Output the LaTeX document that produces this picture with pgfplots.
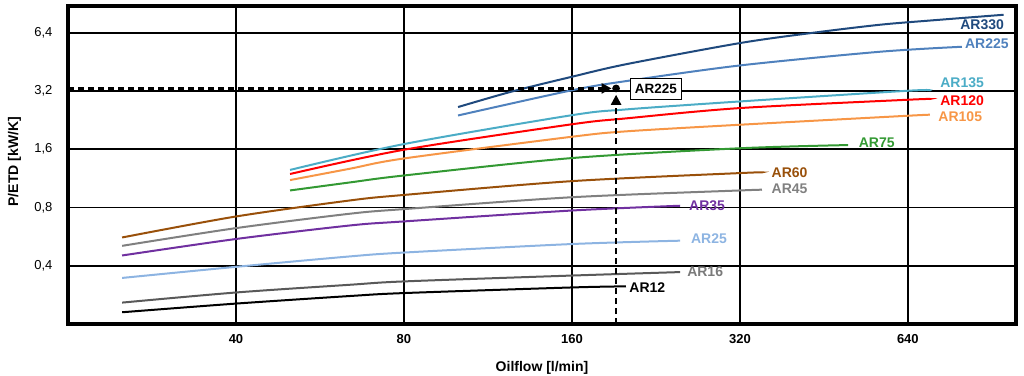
\documentclass[border=0pt]{standalone}
\usepackage{pgfplots}
\pgfplotsset{compat=1.18}
\usepackage{fontspec}
\setmainfont{Liberation Sans}
\usetikzlibrary{arrows.meta}
\definecolor{c330}{RGB}{31,73,125}
\definecolor{c225}{RGB}{79,129,189}
\definecolor{c135}{RGB}{75,172,198}
\definecolor{c120}{RGB}{255,0,0}
\definecolor{c105}{RGB}{247,150,70}
\definecolor{c75}{RGB}{51,153,51}
\definecolor{c60}{RGB}{153,80,10}
\definecolor{c45}{RGB}{128,128,128}
\definecolor{c35}{RGB}{112,48,160}
\definecolor{c25}{RGB}{141,180,226}
\definecolor{c16}{RGB}{89,89,89}
\definecolor{c12}{RGB}{0,0,0}
\begin{document}
\begin{tikzpicture}
\useasboundingbox (0,0) rectangle (1024pt,375pt);
\begin{axis}[
  at={(68pt,51pt)}, anchor=south west,
  scale only axis, width=948pt, height=318pt,
  xmode=log, ymode=log, log basis x=2, log basis y=2,
  xmin=20, xmax=1000, ymin=0.2, ymax=8.8,
  xtick={40,80,160,320,640}, xticklabels={40,80,160,320,640},
  ytick={0.4,0.8,1.6,3.2,6.4}, yticklabels={{0,4},{0,8},{1,6},{3,2},{6,4}},
  minor xtick={}, minor ytick={},
  grid=major, major grid style={black, line width=1.8pt},
  major tick length=0pt,
  axis line style={line width=4.5pt, black},
  tick label style={font=\fontsize{13}{15}\selectfont},
  xticklabel style={font=\bfseries\fontsize{13}{15}\selectfont, yshift=-6.5pt},
  yticklabel style={xshift=-12pt},
  xlabel={Oilflow [l/min]}, ylabel={P/ETD [kW/K]},
  label style={font=\bfseries\fontsize{14}{16}\selectfont},
  xlabel style={at={(axis description cs:0.5,-0.1164)}, anchor=north, inner sep=0pt},
  ylabel style={at={(axis description cs:-0.0564,0.51)}, anchor=center, inner sep=0pt},
  every axis plot/.append style={line width=2pt, no markers},
]
\addplot[c12, smooth] coordinates {(25,0.230)(40,0.255)(64,0.279)(80,0.289)(160,0.309)(200,0.313)};
\addplot[c16, smooth] coordinates {(25,0.258)(40,0.291)(64,0.319)(80,0.332)(160,0.356)(250,0.371)};
\addplot[c25, smooth] coordinates {(25,0.346)(40,0.395)(64,0.447)(80,0.468)(160,0.518)(250,0.539)};
\addplot[c35, smooth] coordinates {(25,0.452)(40,0.550)(64,0.646)(80,0.678)(160,0.772)(250,0.817)};
\addplot[c45, smooth] coordinates {(25,0.507)(40,0.626)(64,0.743)(80,0.785)(160,0.904)(320,0.980)(350,0.988)};
\addplot[c60, smooth] coordinates {(25,0.560)(40,0.719)(64,0.870)(80,0.929)(160,1.095)(320,1.205)(350,1.214)};
\addplot[c75, smooth] coordinates {(50,0.980)(64,1.078)(80,1.171)(160,1.441)(320,1.619)(500,1.682)};
\addplot[c105, smooth] coordinates {(50,1.109)(64,1.269)(80,1.434)(160,1.857)(200,1.98)(320,2.142)(640,2.384)(700,2.412)};
\addplot[c120, smooth] coordinates {(50,1.192)(80,1.591)(160,2.154)(200,2.31)(320,2.612)(640,2.884)(700,2.908)};
\addplot[c135, smooth] coordinates {(50,1.251)(80,1.702)(160,2.40)(200,2.57)(320,2.826)(640,3.210)(700,3.221)};
\addplot[c225, smooth] coordinates {(100,2.392)(160,3.229)(200,3.60)(320,4.337)(570,5.105)(800,5.418)};
\addplot[c330, smooth] coordinates {(100,2.644)(125,3.183)(160,3.792)(200,4.40)(320,5.661)(433,6.4)(570,7.04)(700,7.4)(950,7.93)};
% annotation
\addplot[black, line width=2.2pt, dash pattern=on 6pt off 4pt, -{Triangle[length=10pt,width=10pt]}] coordinates {(20,3.3) (188.5,3.3)};
\addplot[black, line width=2.2pt, dash pattern=on 6pt off 4pt, -{Triangle[length=10pt,width=10pt]}] coordinates {(192,0.2) (192,3.06)};
\addplot[black, only marks, mark=*, mark size=2.8pt] coordinates {(192,3.3)};
\node[draw, line width=1pt, fill=white, inner xsep=4.5pt, inner ysep=5.5pt, font=\bfseries\fontsize{13.5}{15}\selectfont] at (rel axis cs:0.620,0.739) {AR225};
% labels
\tikzset{lab/.style={anchor=west, inner sep=0pt, font=\bfseries\fontsize{14}{16}\selectfont}}
\node[lab, text=c330] at (rel axis cs:0.941,0.940) {AR330};
\node[lab, text=c225] at (rel axis cs:0.946,0.880) {AR225};
\node[lab, text=c135] at (rel axis cs:0.920,0.758) {AR135};
\node[lab, text=c120] at (rel axis cs:0.920,0.703) {AR120};
\node[lab, text=c105] at (rel axis cs:0.918,0.6525) {AR105};
\node[lab, text=c75] at (rel axis cs:0.834,0.569) {AR75};
\node[lab, text=c60] at (rel axis cs:0.742,0.476) {AR60};
\node[lab, text=c45] at (rel axis cs:0.742,0.4255) {AR45};
\node[lab, text=c35] at (rel axis cs:0.655,0.371) {AR35};
\node[lab, text=c25] at (rel axis cs:0.657,0.267) {AR25};
\node[lab, text=c16!80!white] at (rel axis cs:0.653,0.1635) {AR16};
\node[lab, text=c12] at (rel axis cs:0.592,0.116) {AR12};
\end{axis}
\end{tikzpicture}
\end{document}
